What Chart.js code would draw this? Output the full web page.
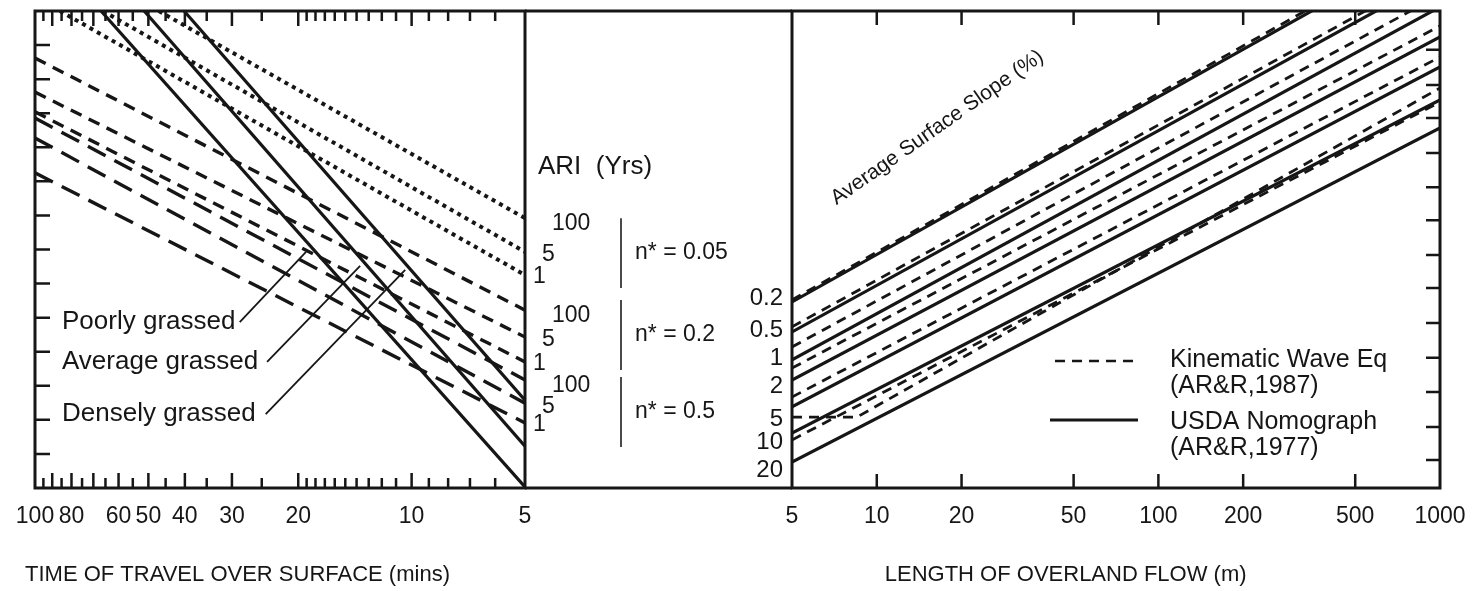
<!DOCTYPE html>
<html>
<head>
<meta charset="utf-8">
<script src="https://cdn.jsdelivr.net/npm/chart.js@4.4.1/dist/chart.umd.min.js"></script>
<style>
html, body { margin: 0; padding: 0; background: #fff; }
#wrap { position: relative; width: 1484px; height: 591px; overflow: hidden; background: #fff; }
#timeChart { position: absolute; left: 0; top: 0; width: 792px; height: 591px; }
#lengthChart { position: absolute; left: 700px; top: 0; width: 784px; height: 591px; }
</style>
</head>
<body>
<div id="wrap">
  <canvas id="timeChart" width="792" height="591"></canvas>
  <canvas id="lengthChart" width="784" height="591"></canvas>
</div>
<script>
const INK = "#161616";
const FAMILY = "'Liberation Sans', Arial, Helvetica, sans-serif";

// time of travel axis (mins), log, reversed
const timeLabels = [100, 80, 60, 50, 40, 30, 20, 10, 5];
const timeMajor = [90, 80, 70, 60, 50, 40, 30, 20, 10];
const timeMinor = [95, 85, 75, 65, 55, 45, 35, 25, 19, 18, 17, 16, 15, 14, 13, 12, 11, 9, 8, 7, 6];
// shared pivot scale (0 bottom .. 14 top)
const pivotLeftTicks = [1, 2, 3, 4, 5, 6, 7, 8, 9, 10, 11, 12, 13];
const pivotRightTicks = [0.82, 1.79, 2.82, 3.82, 4.84, 5.87, 6.84, 7.86, 8.83, 9.83, 10.86, 11.83, 12.86];
// length of overland flow axis (m), log
const lengthLabels = [5, 10, 20, 50, 100, 200, 500, 1000];
const lengthTicks = [10, 20, 50, 100, 200, 500];

// ARI lines: [time start, pivot start, time end, pivot end]
const ariNames = ["100", "5", "1"];
const nStarNames = ["n* = 0.05", "n* = 0.2", "n* = 0.5"];
const nStar005 = [[46.9, 14, 5, 7.92], [66.0, 14, 5, 6.93], [85.8, 14, 5, 6.25]];
const nStar02 = [[100, 12.62, 5, 5.22], [100, 11.62, 5, 4.43], [100, 11.04, 5, 3.70]];
const nStar05 = [[100, 10.86, 5, 3.17], [100, 10.27, 5, 2.49], [100, 9.25, 5, 1.91]];
const ariBars = [[7.92, 5.87], [5.52, 3.46], [3.26, 1.20]];

// USDA grass lines + leaders
const grassNames = ["Poorly grassed", "Average grassed", "Densely grassed"];
const usdaGrass = [[66.8, 14, 5, 0.03], [51.3, 14, 5, 1.23], [40.2, 14, 5, 2.58]];
const grassLeaders = [[28.6, 4.87, 19.07, 6.93], [24.2, 3.70, 13.7, 6.52], [24.4, 2.17, 10.4, 6.40]];

// surface slope lines: pivot at L = 5 m and at L = 1000 m
const slopeNames = ["0.2", "0.5", "1", "2", "5", "10", "20"];
const usdaSlope = [[5.46, 16.11], [4.58, 15.03], [3.76, 14.12], [3.17, 13.24], [2.38, 12.36], [1.61, 11.39], [0.76, 10.57]];
const kinSlope = [[5.52, 16.23], [4.73, 15.21], [4.14, 14.47], [3.52, 13.56], [2.67, 12.65], [2.08, 11.74], [1.41, 11.33]];
const kinFlatEnd = [null, null, null, null, null, 8.5, null];

function font(size) { return size + "px " + FAMILY; }

function seg(p) {
    return [{ x: p[0], y: p[1] }, { x: p[2], y: p[3] }];
}

function lineSet(data, width, dash) {
    return {
        data: data,
        showLine: true,
        borderColor: INK,
        borderWidth: width,
        borderDash: dash,
        borderCapStyle: "butt",
        pointRadius: 0,
        tension: 0,
        fill: false,
        clip: 0
    };
}

// box + inward ticks
function framePlugin(spec) {
    return {
        id: "frame",
        afterDatasetsDraw(chart) {
            const { ctx, chartArea: a } = chart;
            const xs = chart.scales.x, ys = chart.scales.y;
            ctx.save();
            ctx.strokeStyle = INK;
            ctx.lineWidth = 2.5;
            ctx.beginPath();
            const xt = (list, len) => list.forEach(v => {
                const px = xs.getPixelForValue(v);
                ctx.moveTo(px, a.top); ctx.lineTo(px, a.top + len);
                ctx.moveTo(px, a.bottom); ctx.lineTo(px, a.bottom - len);
            });
            xt(spec.xMajor, spec.longTick);
            xt(spec.xMinor, spec.shortTick);
            const x0 = spec.ySide === "left" ? a.left : a.right;
            const d = spec.ySide === "left" ? 1 : -1;
            spec.yTicks.forEach(v => {
                const py = ys.getPixelForValue(v);
                ctx.moveTo(x0, py); ctx.lineTo(x0 + d * spec.yTick, py);
            });
            ctx.stroke();
            ctx.lineWidth = 3;
            ctx.strokeRect(a.left, a.top, a.width, a.height);

            // axis title under the tick labels
            ctx.fillStyle = INK;
            ctx.font = font(22);
            ctx.textAlign = "left";
            ctx.textBaseline = "middle";
            ctx.fillText(spec.title, spec.titleX(xs, a), 575);
            ctx.restore();
        }
    };
}

const timeNotes = {
    id: "timeNotes",
    afterDatasetsDraw(chart) {
        const { ctx, chartArea: a } = chart;
        const ys = chart.scales.y;
        ctx.save();
        ctx.fillStyle = INK;
        ctx.strokeStyle = INK;
        ctx.textBaseline = "middle";

        // grass labels
        ctx.font = font(26);
        ctx.textAlign = "left";
        grassLeaders.forEach((l, i) => {
            ctx.fillText(grassNames[i], a.left + 27, ys.getPixelForValue(l[1]));
        });

        // middle panel top/bottom lines
        ctx.lineWidth = 3;
        ctx.beginPath();
        ctx.moveTo(a.right, a.top); ctx.lineTo(chart.width, a.top);
        ctx.moveTo(a.right, a.bottom); ctx.lineTo(chart.width, a.bottom);
        ctx.stroke();

        ctx.font = font(26);
        ctx.fillText("ARI  (Yrs)", a.right + 13, 167);

        // ARI labels at line ends
        ctx.font = font(23);
        const labelX = [a.right + 27, a.right + 17, a.right + 8];
        const labelDy = [6, 3, 2];
        [nStar005, nStar02, nStar05].forEach(fam => {
            fam.forEach((l, i) => {
                ctx.fillText(ariNames[i], labelX[i], ys.getPixelForValue(l[3]) + labelDy[i]);
            });
        });

        // n* brackets
        ctx.strokeStyle = "#4a4a4a";
        ctx.lineWidth = 2;
        ariBars.forEach((b, i) => {
            const top = ys.getPixelForValue(b[0]), bot = ys.getPixelForValue(b[1]);
            ctx.beginPath();
            ctx.moveTo(a.right + 96, top); ctx.lineTo(a.right + 96, bot);
            ctx.stroke();
            ctx.fillText(nStarNames[i], a.right + 110, (top + bot) / 2);
        });
        ctx.restore();
    }
};

const slopeLabelDy = [-4, -2, -2, 6, 12, 9, 8];

const lengthNotes = {
    id: "lengthNotes",
    afterDatasetsDraw(chart) {
        const { ctx, chartArea: a } = chart;
        const xs = chart.scales.x, ys = chart.scales.y;
        ctx.save();
        ctx.fillStyle = INK;
        ctx.strokeStyle = INK;
        ctx.textBaseline = "middle";

        // slope labels at the left edge
        ctx.font = font(24);
        ctx.textAlign = "right";
        usdaSlope.forEach((s, i) => {
            ctx.fillText(slopeNames[i], a.left - 9, ys.getPixelForValue(s[0]) + slopeLabelDy[i]);
        });

        // rotated heading
        ctx.save();
        ctx.translate(xs.getPixelForValue(7.2), ys.getPixelForValue(8.3));
        ctx.rotate(-35 * Math.PI / 180);
        ctx.textAlign = "left";
        ctx.textBaseline = "alphabetic";
        ctx.font = font(21);
        ctx.fillText("Average Surface Slope (%)", 0, 0);
        ctx.restore();

        // legend
        ctx.textAlign = "left";
        ctx.font = font(25);
        const lx = a.left + 263, tx = a.left + 378;
        ctx.lineWidth = 2.6;
        ctx.setLineDash([10, 7]);
        ctx.beginPath(); ctx.moveTo(lx, 361); ctx.lineTo(lx + 83, 361); ctx.stroke();
        ctx.setLineDash([]);
        ctx.lineWidth = 3;
        ctx.beginPath(); ctx.moveTo(lx - 5, 420); ctx.lineTo(lx + 83, 420); ctx.stroke();
        ctx.fillText("Kinematic Wave Eq", tx, 360);
        ctx.fillText("(AR&R,1987)", tx, 386);
        ctx.fillText("USDA Nomograph", tx, 422);
        ctx.fillText("(AR&R,1977)", tx, 448);
        ctx.restore();
    }
};

function xTicks() {
    return {
        autoSkip: false,
        maxRotation: 0,
        color: INK,
        padding: 15,
        font: { family: FAMILY, size: 23 },
        callback: v => String(v)
    };
}

function initTimeChart() {
    const datasets = [];
    nStar005.forEach(l => datasets.push(lineSet(seg(l), 4, [4, 4.5])));
    nStar02.forEach(l => datasets.push(lineSet(seg(l), 3.4, [12, 8])));
    nStar05.forEach(l => datasets.push(lineSet(seg(l), 3.4, [20, 10])));
    usdaGrass.forEach(l => datasets.push(lineSet(seg(l), 3.2, [])));
    grassLeaders.forEach(l => datasets.push(lineSet(seg(l), 1.8, [])));

    return new Chart(document.getElementById("timeChart"), {
        type: "scatter",
        data: { datasets: datasets },
        options: {
            responsive: false,
            animation: false,
            events: [],
            layout: { padding: { left: 35, right: 267, top: 11, bottom: 0 } },
            plugins: { legend: { display: false }, tooltip: { enabled: false } },
            scales: {
                x: {
                    type: "logarithmic",
                    min: 5,
                    max: 100,
                    reverse: true,
                    afterBuildTicks: s => { s.ticks = timeLabels.map(v => ({ value: v })); },
                    afterFit: s => { s.height = 103; },
                    ticks: xTicks(),
                    grid: { display: false, drawTicks: false },
                    border: { display: false }
                },
                y: { display: false, min: 0, max: 14 }
            }
        },
        plugins: [framePlugin({
            xMajor: timeMajor, xMinor: timeMinor, longTick: 15, shortTick: 10,
            yTicks: pivotLeftTicks, ySide: "left", yTick: 15,
            title: "TIME OF TRAVEL OVER SURFACE (mins)",
            titleX: (xs, a) => a.left - 10
        }), timeNotes]
    });
}

function initLengthChart() {
    const datasets = [];
    usdaSlope.forEach(s => datasets.push(lineSet([{ x: 5, y: s[0] }, { x: 1000, y: s[1] }], 3.2, [])));
    kinSlope.forEach((s, i) => {
        const pts = [{ x: 5, y: s[0] }];
        if (kinFlatEnd[i]) pts.push({ x: kinFlatEnd[i], y: s[0] });
        pts.push({ x: 1000, y: s[1] });
        datasets.push(lineSet(pts, 2.8, [10, 7]));
    });

    return new Chart(document.getElementById("lengthChart"), {
        type: "scatter",
        data: { datasets: datasets },
        options: {
            responsive: false,
            animation: false,
            events: [],
            layout: { padding: { left: 92, right: 44, top: 11, bottom: 0 } },
            plugins: { legend: { display: false }, tooltip: { enabled: false } },
            scales: {
                x: {
                    type: "logarithmic",
                    min: 5,
                    max: 1000,
                    afterBuildTicks: s => { s.ticks = lengthLabels.map(v => ({ value: v })); },
                    afterFit: s => { s.height = 103; },
                    ticks: xTicks(),
                    grid: { display: false, drawTicks: false },
                    border: { display: false }
                },
                y: { display: false, min: 0, max: 14 }
            }
        },
        plugins: [framePlugin({
            xMajor: lengthTicks, xMinor: [], longTick: 14, shortTick: 0,
            yTicks: pivotRightTicks, ySide: "right", yTick: 14,
            title: "LENGTH OF OVERLAND FLOW (m)",
            titleX: (xs, a) => xs.getPixelForValue(10) + 8
        }), lengthNotes]
    });
}

window.onload = () => {
    initTimeChart();
    initLengthChart();
};
</script>
</body>
</html>
